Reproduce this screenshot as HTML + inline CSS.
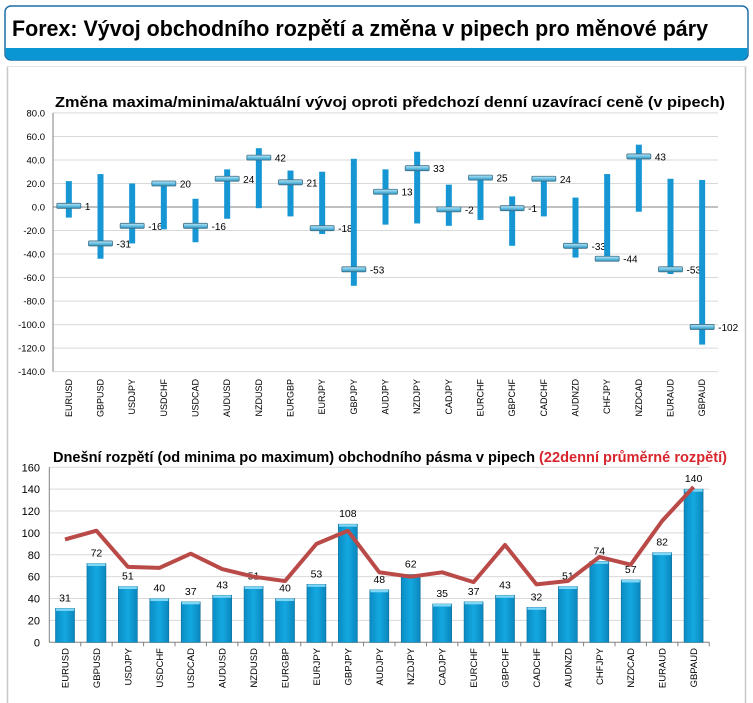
<!DOCTYPE html>
<html><head><meta charset="utf-8"><style>
body{margin:0;background:#fff;width:753px;height:703px;overflow:hidden;font-family:"Liberation Sans",sans-serif}
svg{position:absolute;left:0;top:0}
</style></head><body>
<svg id="s" width="753" height="703" viewBox="0 0 753 703">
<defs>
<linearGradient id="mk" x1="0" y1="0" x2="0" y2="1"><stop offset="0" stop-color="#bfe6f4"/><stop offset="0.5" stop-color="#6cc3e6"/><stop offset="1" stop-color="#2f8fb8"/></linearGradient>
<linearGradient id="bg" x1="0" y1="0" x2="1" y2="0"><stop offset="0" stop-color="#0a8cc4"/><stop offset="0.5" stop-color="#14a8e0"/><stop offset="1" stop-color="#0a86bd"/></linearGradient>
</defs>
<rect x="5" y="6" width="743" height="54" rx="6" fill="#fff" stroke="#1b6fa8" stroke-width="1.5"/>
<path d="M5.75 48 H747.25 V54 a6 6 0 0 1 -6 6 H11.75 a6 6 0 0 1 -6 -6 Z" fill="#0a96d2"/>
<text x="12" y="36" font-size="22" font-weight="bold" fill="#000" textLength="696" lengthAdjust="spacingAndGlyphs">Forex: Vývoj obchodního rozpětí a změna v pipech pro měnové páry</text>
<line x1="7.5" y1="66" x2="7.5" y2="703" stroke="#c8c8c8" stroke-width="1.5"/>
<line x1="745.5" y1="66" x2="745.5" y2="703" stroke="#c8c8c8" stroke-width="1.5"/>
<line x1="7" y1="66.5" x2="746" y2="66.5" stroke="#e4e4e4"/>
<text x="55" y="107" font-size="14.5" font-weight="bold" fill="#000" textLength="670" lengthAdjust="spacingAndGlyphs">Změna maxima/minima/aktuální vývoj oproti předchozí denní uzavírací ceně (v pipech)</text>
<text x="53" y="462" font-size="14.5" font-weight="bold" fill="#000" textLength="674" lengthAdjust="spacingAndGlyphs">Dnešní rozpětí (od minima po maximum) obchodního pásma v pipech <tspan fill="#d9262e">(22denní průměrné rozpětí)</tspan></text>
<g id="top"></g>
<g id="bot"></g>
</svg>
<script>
const pairs=["EURUSD","GBPUSD","USDJPY","USDCHF","USDCAD","AUDUSD","NZDUSD","EURGBP","EURJPY","GBPJPY","AUDJPY","NZDJPY","CADJPY","EURCHF","GBPCHF","CADCHF","AUDNZD","CHFJPY","NZDCAD","EURAUD","GBPAUD"];
const highs=[22,28,20,20,7,32,50,31,30,41,32,47,19,25,9,24,8,28,53,24,23];
const lows=[-9,-44,-31,-19,-30,-10,-1,-8,-23,-67,-15,-14,-16,-11,-33,-8,-43,-44,-4,-57,-117];
const currents=[1,-31,-16,20,-16,24,42,21,-18,-53,13,33,-2,25,-1,24,-33,-44,43,-53,-102];
const topTicks=[80,60,40,20,0,-20,-40,-60,-80,-100,-120,-140];
const ranges=[31,72,51,40,37,43,51,40,53,108,48,62,35,37,43,32,51,74,57,82,140];
const avg22=[94,102,69,68,81,67,60,56,90,102,64,60,64,55,89,53,56,78,71,111,142];
const botTicks=[0,20,40,60,80,100,120,140,160];

const NS="http://www.w3.org/2000/svg";
function mk(p,tag,a,txt){const e=document.createElementNS(NS,tag);for(const k in a)e.setAttribute(k,a[k]);if(txt!==undefined)e.textContent=txt;p.appendChild(e);return e;}

// top chart
const T=document.getElementById('top');
const tx0=53,tx1=718,ty=v=>207-(v)*(258.7/220);
const tbw=(tx1-tx0)/pairs.length, tcx=i=>tx0+tbw*(i+0.5);
topTicks.forEach(v=>{
  const l=mk(T,'line',{x1:tx0,x2:tx1,y1:ty(v),y2:ty(v),stroke:v===0?'#808080':'#d9d9d9','stroke-width':1});
  
  
  const t=mk(T,'text',{x:45,y:ty(v)+3.5,'font-size':9.5,'text-anchor':'end',fill:'#000'},v.toFixed(1));
  
  
});
const tax=mk(T,'line',{x1:tx0,x2:tx0,y1:ty(80),y2:ty(-140),stroke:'#808080'});


pairs.forEach((p,i)=>{
  const c=tcx(i);
  const r=mk(T,'rect',{x:c-3,y:ty(highs[i]),width:6,height:ty(lows[i])-ty(highs[i]),fill:'#1696d3'});
  
  
  const m=mk(T,'rect',{x:c-12,y:ty(currents[i])-2.5,width:24,height:5,fill:'url(#mk)',stroke:'#3e6f86','stroke-width':0.8,rx:1});
  
  
  const t=mk(T,'text',{x:c+16,y:ty(currents[i])+4,'font-size':10,fill:'#000'},String(currents[i]));
  
  
  const x=mk(T,'text',{x:0,y:0,'font-size':9,'text-anchor':'end',fill:'#000',transform:`translate(${c+3},${379}) rotate(-90)`},p);
  
  
});

// bottom chart
const B=document.getElementById('bot');
const bx0=49.3,bx1=709.3,by=v=>642.3-v*(175/160);
const bbw=(bx1-bx0)/pairs.length, bcx=i=>bx0+bbw*(i+0.5);
botTicks.forEach(v=>{
  const l=mk(B,'line',{x1:bx0,x2:bx1,y1:by(v),y2:by(v),stroke:v===0?'#808080':'#d9d9d9','stroke-width':1});
  
  
  const t=mk(B,'text',{x:40,y:by(v)+4,'font-size':11,'text-anchor':'end',fill:'#000'},String(v));
  
  
});
const bax=mk(B,'line',{x1:bx0,x2:bx0,y1:by(160),y2:by(0),stroke:'#808080'});


pairs.forEach((p,i)=>{
  const c=bcx(i);
  const r=mk(B,'rect',{x:c-9.5,y:by(ranges[i]),width:19,height:by(0)-by(ranges[i]),fill:'url(#bg)',stroke:'#0b6d99','stroke-width':0.6});
  
  
  const hl=mk(B,'rect',{x:c-9,y:by(ranges[i]),width:18,height:2.5,fill:'#7fd6f5'});
  
  
  const t=mk(B,'text',{x:c,y:by(ranges[i])-7,'font-size':10.5,'text-anchor':'middle',fill:'#000'},String(ranges[i]));
  
  
  const tk=mk(B,'line',{x1:bx0+bbw*(i+1),x2:bx0+bbw*(i+1),y1:by(0),y2:by(0)+4,stroke:'#808080'});
  
  
  const x=mk(B,'text',{x:0,y:0,'font-size':9.5,'text-anchor':'end',fill:'#000',transform:`translate(${c+3.5},${648}) rotate(-90)`},p);
  
  
});
const pl=mk(B,'polyline',{points:avg22.map((v,i)=>bcx(i)+','+by(v)).join(' '),fill:'none',stroke:'#b94a48','stroke-width':4,'stroke-linejoin':'round'});


</script>
</body></html>
